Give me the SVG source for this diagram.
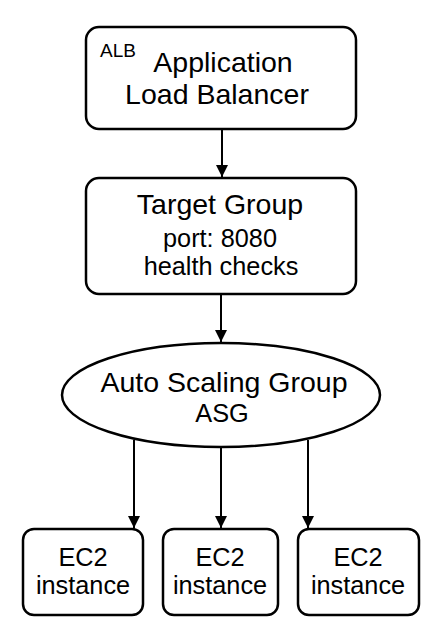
<svg xmlns="http://www.w3.org/2000/svg" width="436" height="628" viewBox="0 0 436 628">
<defs>
<style>
.box{fill:#fff;stroke:#000;stroke-width:2.5}
.t{font-family:"Liberation Sans",Arial,sans-serif;fill:#000;text-anchor:middle}
.l{font-size:28.5px}
.m{font-size:25.3px}
.s{font-size:19px;text-anchor:start}
.c{fill:none;stroke:#000;stroke-width:2}
</style>
<marker id="ah" markerWidth="12" markerHeight="12" viewBox="0 0 12 12" refX="12" refY="6" orient="auto" markerUnits="userSpaceOnUse">
<path d="M0,0 L12,6 L0,12 Z" fill="#000"/>
</marker>
</defs>
<rect width="436" height="628" fill="#fff"/>
<g id="connectors">
<line class="c" x1="222" y1="129" x2="222" y2="177" marker-end="url(#ah)"/>
<line class="c" x1="221" y1="294" x2="221" y2="342" marker-end="url(#ah)"/>
<line class="c" x1="134" y1="440" x2="134" y2="528" marker-end="url(#ah)"/>
<line class="c" x1="221" y1="447" x2="221" y2="528" marker-end="url(#ah)"/>
<line class="c" x1="308" y1="440" x2="308" y2="528" marker-end="url(#ah)"/>
</g>
<g id="alb">
<rect class="box" x="86" y="27" width="270" height="102" rx="13"/>
<text class="t s" x="100" y="57">ALB</text>
<text class="t l" x="223" y="72">Application</text>
<text class="t l" x="217" y="104">Load Balancer</text>
</g>
<g id="tg">
<rect class="box" x="86" y="178" width="270" height="116" rx="13"/>
<text class="t l" x="220" y="214">Target Group</text>
<text class="t m" x="220" y="247">port: 8080</text>
<text class="t m" x="221" y="275">health checks</text>
</g>
<g id="asg">
<ellipse class="box" cx="221" cy="395" rx="159" ry="52"/>
<text class="t l" x="224" y="392">Auto Scaling Group</text>
<text class="t m" x="222" y="422">ASG</text>
</g>
<g id="ec2a">
<rect class="box" x="23" y="529" width="120" height="86" rx="11"/>
<text class="t m" x="83" y="566">EC2</text>
<text class="t m" x="83" y="594">instance</text>
</g>
<g id="ec2b">
<rect class="box" x="163" y="529" width="115" height="86" rx="11"/>
<text class="t m" x="220" y="566">EC2</text>
<text class="t m" x="220" y="594">instance</text>
</g>
<g id="ec2c">
<rect class="box" x="298" y="529" width="121" height="86" rx="11"/>
<text class="t m" x="358" y="566">EC2</text>
<text class="t m" x="358" y="594">instance</text>
</g>
</svg>
